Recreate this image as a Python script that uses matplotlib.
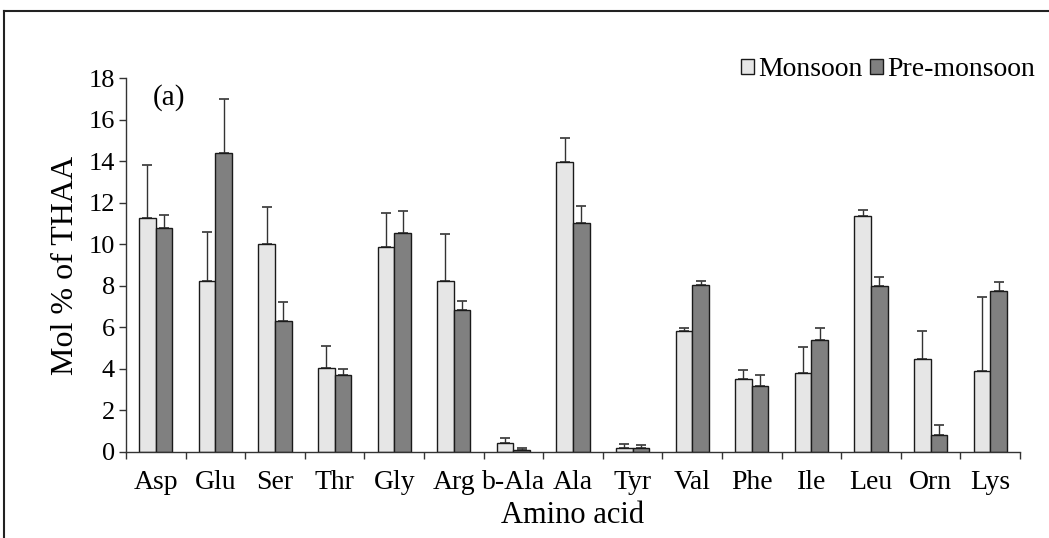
import matplotlib
matplotlib.use("Agg")
import matplotlib.pyplot as plt
from matplotlib.lines import Line2D
import numpy as np

categories = ["Asp", "Glu", "Ser", "Thr", "Gly", "Arg", "b-Ala", "Ala", "Tyr",
              "Val", "Phe", "Ile", "Leu", "Orn", "Lys"]
monsoon = [11.25, 8.25, 10.0, 4.05, 9.85, 8.25, 0.45, 13.95, 0.2,
           5.8, 3.5, 3.8, 11.35, 4.5, 3.9]
monsoon_err = [2.55, 2.35, 1.8, 1.05, 1.65, 2.25, 0.2, 1.15, 0.2,
               0.15, 0.45, 1.25, 0.3, 1.3, 3.55]
premonsoon = [10.8, 14.4, 6.3, 3.7, 10.55, 6.85, 0.1, 11.0, 0.2,
              8.05, 3.2, 5.4, 8.0, 0.8, 7.75]
premonsoon_err = [0.6, 2.6, 0.9, 0.3, 1.05, 0.4, 0.08, 0.85, 0.15,
                  0.2, 0.5, 0.55, 0.4, 0.5, 0.45]
yticks = [0, 2, 4, 6, 8, 10, 12, 14, 16, 18]

plt.rcParams['font.family'] = ['Liberation Serif', 'DejaVu Serif']

fig = plt.figure(figsize=(10.49, 5.38), dpi=100)
ax = fig.add_axes([126/1049, 1-452/538, (1020-126)/1049, (452-78)/538])

x = np.arange(len(categories))
w = 0.28
b1 = ax.bar(x - w/2, monsoon, w, color='#e6e6e6', edgecolor='#1a1a1a',
            linewidth=1.0, label='Monsoon', zorder=2)
b2 = ax.bar(x + w/2, premonsoon, w, color='#808080', edgecolor='#1a1a1a',
            linewidth=1.0, label='Pre-monsoon', zorder=2)
ax.errorbar(x - w/2, monsoon, yerr=[np.zeros(len(x)), monsoon_err], fmt='none',
            ecolor='#333333', elinewidth=1.0, capsize=3.5, capthick=1.2, zorder=1)
ax.errorbar(x + w/2, premonsoon, yerr=[np.zeros(len(x)), premonsoon_err], fmt='none',
            ecolor='#333333', elinewidth=1.0, capsize=3.5, capthick=1.2, zorder=1)

ax.set_xlim(-0.5, len(categories) - 0.5)
ax.set_ylim(0, 18)
ax.set_yticks(yticks)
ax.set_yticklabels([str(t) for t in yticks], fontsize=19)
ax.set_xticks(x)
ax.set_xticklabels(categories, fontsize=20)
ax.set_xticks(np.arange(-0.5, len(categories), 1.0), minor=True)
ax.tick_params(axis='x', which='major', length=0, pad=13)
ax.tick_params(axis='x', which='minor', length=5, width=1, direction='out', color='#333333')
ax.tick_params(axis='y', length=5, width=1, direction='out', pad=3, color='#333333')

for s in ['top', 'right']:
    ax.spines[s].set_visible(False)
for s in ['left', 'bottom']:
    ax.spines[s].set_linewidth(1.0)
    ax.spines[s].set_color('#333333')

ax.set_ylabel('Mol % of THAA', fontsize=23, labelpad=6)
ax.set_xlabel('Amino acid', fontsize=22, labelpad=4)

ax.text(0.03, 0.985, '(a)', transform=ax.transAxes, fontsize=21,
        va='top', ha='left')

fig.legend(handles=[b1, b2], labels=['Monsoon', 'Pre-monsoon'],
           loc='upper right', bbox_to_anchor=(1035/1049, 1-57/538),
           ncol=2, frameon=False, fontsize=20, handlelength=0.45,
           handleheight=0.45, handletextpad=0.15, columnspacing=0.3,
           borderpad=0, borderaxespad=0)

# figure frame lines (top and left)
fig.add_artist(Line2D([4/1049, 1.0], [1-11/538, 1-11/538], transform=fig.transFigure,
                      color='#222222', linewidth=1.5))
fig.add_artist(Line2D([4/1049, 4/1049], [0.0, 1-11/538], transform=fig.transFigure,
                      color='#222222', linewidth=1.5))

fig.savefig('out.png', dpi=100)
